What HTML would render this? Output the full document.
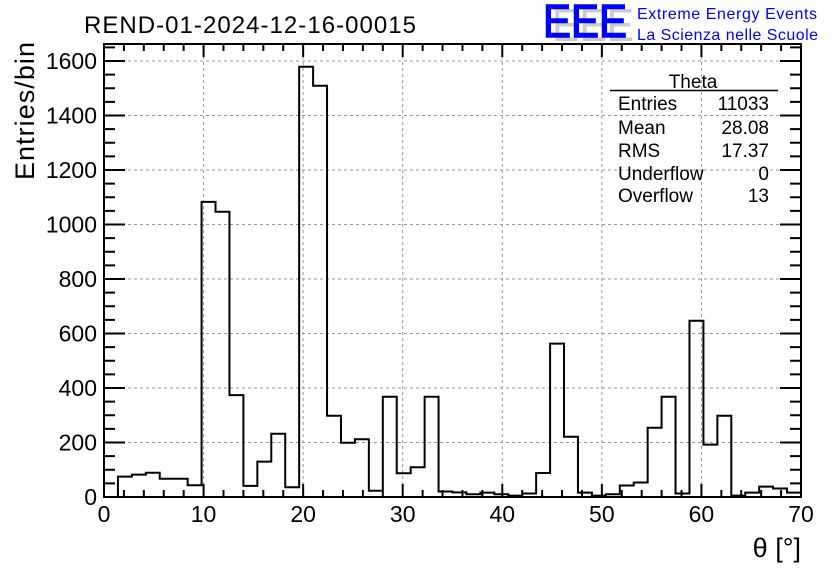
<!DOCTYPE html>
<html><head><meta charset="utf-8"><style>
body{margin:0;background:#fff;}
svg{display:block;font-family:"Liberation Sans",sans-serif;}
</style></head><body>
<svg id="c" width="836" height="572">
<text x="84" y="33" font-size="24" fill="#000" textLength="332">REND-01-2024-12-16-00015</text>
<g>
<text x="552" y="41" font-size="46" fill="#ccc" textLength="82" lengthAdjust="spacingAndGlyphs">EEE</text>
<text x="543" y="37" font-size="46" fill="#0000ff" stroke="#0000ff" stroke-width="1.5" textLength="84" lengthAdjust="spacingAndGlyphs">EEE</text>
<text x="637" y="19" font-size="16" fill="#0000ff" textLength="180">Extreme Energy Events</text>
<text x="637" y="40" font-size="16" fill="#0000ff" textLength="181">La Scienza nelle Scuole</text>
</g>
<g id="grid"></g>
<g id="ticks"></g>
<path id="hist" fill="none" stroke="#000" stroke-width="2"/>
<rect x="104" y="44" width="697" height="453" fill="none" stroke="#000" stroke-width="2"/>
<g id="labels" font-size="23"></g>
<text x="34" y="180" font-size="27" transform="rotate(-90 34 180)" textLength="138">Entries/bin</text>
<text x="801" y="557" font-size="27" text-anchor="end">θ [°]</text>
<g font-size="19">
<text x="693" y="88" text-anchor="middle">Theta</text>
<line x1="610" y1="90.5" x2="778" y2="90.5" stroke="#000" stroke-width="1.5"/>
<text x="618" y="110">Entries</text><text x="769" y="110" text-anchor="end">11033</text>
<text x="618" y="134">Mean</text><text x="769" y="134" text-anchor="end">28.08</text>
<text x="618" y="157">RMS</text><text x="769" y="157" text-anchor="end">17.37</text>
<text x="618" y="180">Underflow</text><text x="769" y="180" text-anchor="end">0</text>
<text x="618" y="202">Overflow</text><text x="769" y="202" text-anchor="end">13</text>
</g>
</svg>
<script>
const counts=[0,75,82,89,67,67,43,1083,1047,374,41,130,232,36,1579,1509,298,199,212,23,368,87,109,368,20,17,10,16,10,5,13,88,563,221,16,5,10,42,53,254,368,13,647,192,298,5,16,38,31,16];
const binWidth=1.4;
const xTicks=[0,10,20,30,40,50,60,70];
const yTicks=[0,200,400,600,800,1000,1200,1400,1600];
const X0=104,X1=801,Y0=497,Y1=61;
function sx(v){return X0+(v-0)/(70-0)*(X1-X0);}
function sy(v){return Y0-(v/1600)*(Y0-Y1);}
const NS="http://www.w3.org/2000/svg";
function mk(tag,attrs,parent){const e=document.createElementNS(NS,tag);for(const k in attrs)e.setAttribute(k,attrs[k]);parent.appendChild(e);return e;}
const grid=document.getElementById('grid'),ticks=document.getElementById('ticks'),labels=document.getElementById('labels');
xTicks.forEach(t=>{
  if(t>0&&t<70){const l=mk('line',{x1:sx(t),x2:sx(t),y1:44,y2:497,stroke:'#999','stroke-dasharray':'3,3','stroke-width':1},grid);
  
  }
  const tx=mk('text',{x:sx(t),y:522,'text-anchor':'middle'},labels);tx.textContent=t;
  
  
});
for(let v=0;v<=70;v+=2){const L=(v%10===0)?13:7;
  mk('line',{x1:sx(v),x2:sx(v),y1:497,y2:497-L,stroke:'#000','stroke-width':2},ticks);
  mk('line',{x1:sx(v),x2:sx(v),y1:44,y2:44+L,stroke:'#000','stroke-width':2},ticks);}
yTicks.forEach(t=>{
  if(t>0){const l=mk('line',{x1:104,x2:801,y1:sy(t),y2:sy(t),stroke:'#999','stroke-dasharray':'3,3','stroke-width':1},grid);
  
  }
  const tx=mk('text',{x:97,y:sy(t)+8,'text-anchor':'end'},labels);tx.textContent=t;
  
  
});
for(let v=0;v<=1650;v+=50){const y=sy(v);if(y<44)break;const maj=v%200===0;
  mk('line',{x1:104,x2:104+(maj?21:11),y1:y,y2:y,stroke:'#000','stroke-width':2},ticks);
  mk('line',{x1:801,x2:801-(maj?21:11),y1:y,y2:y,stroke:'#000','stroke-width':2},ticks);}
let d='M'+sx(0)+','+sy(0);
counts.forEach((c,i)=>{const a=sx(i*binWidth),b=sx((i+1)*binWidth);d+=' L'+a+','+sy(c)+' L'+b+','+sy(c);});
d+=' L'+sx(counts.length*binWidth)+','+sy(0);
document.getElementById('hist').setAttribute('d',d);
</script>
</body></html>
